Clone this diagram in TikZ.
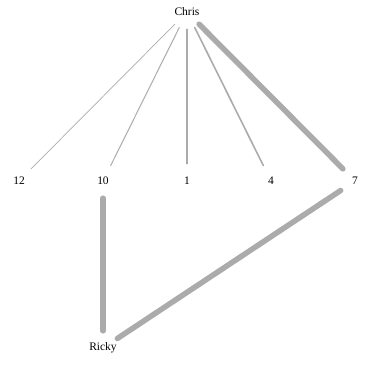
\documentclass[tikz,border=0pt]{standalone}
\usepackage{fontspec}
\setmainfont{Liberation Serif}
\begin{document}
\begin{tikzpicture}[x=1pt,y=-1pt,
  lbl/.style={circle,minimum size=34pt,inner sep=0pt,font=\fontsize{11.5}{13}\selectfont},
  edge/.style={draw=black!33,line cap=round}]
\useasboundingbox (0,0) rectangle (368,365);
\node[lbl] (chris) at (187,12) {Chris};
\node[lbl] (n12) at (19,181) {12};
\node[lbl] (n10) at (103,181) {10};
\node[lbl] (n1) at (187,181) {1};
\node[lbl] (n4) at (271,181) {4};
\node[lbl] (n7) at (355,181) {7};
\node[lbl] (ricky) at (103,348) {Ricky};
\draw[edge,line width=0.7pt] (chris) -- (n12);
\draw[edge,line width=1.0pt] (chris) -- (n10);
\draw[edge,line width=1.3pt] (chris) -- (n1);
\draw[edge,line width=1.6pt] (chris) -- (n4);
\draw[edge,line width=5.5pt] (chris) -- (n7);
\draw[edge,line width=5.5pt] (n10) -- (ricky);
\draw[edge,line width=5.5pt] (n7) -- (ricky);
\end{tikzpicture}
\end{document}
